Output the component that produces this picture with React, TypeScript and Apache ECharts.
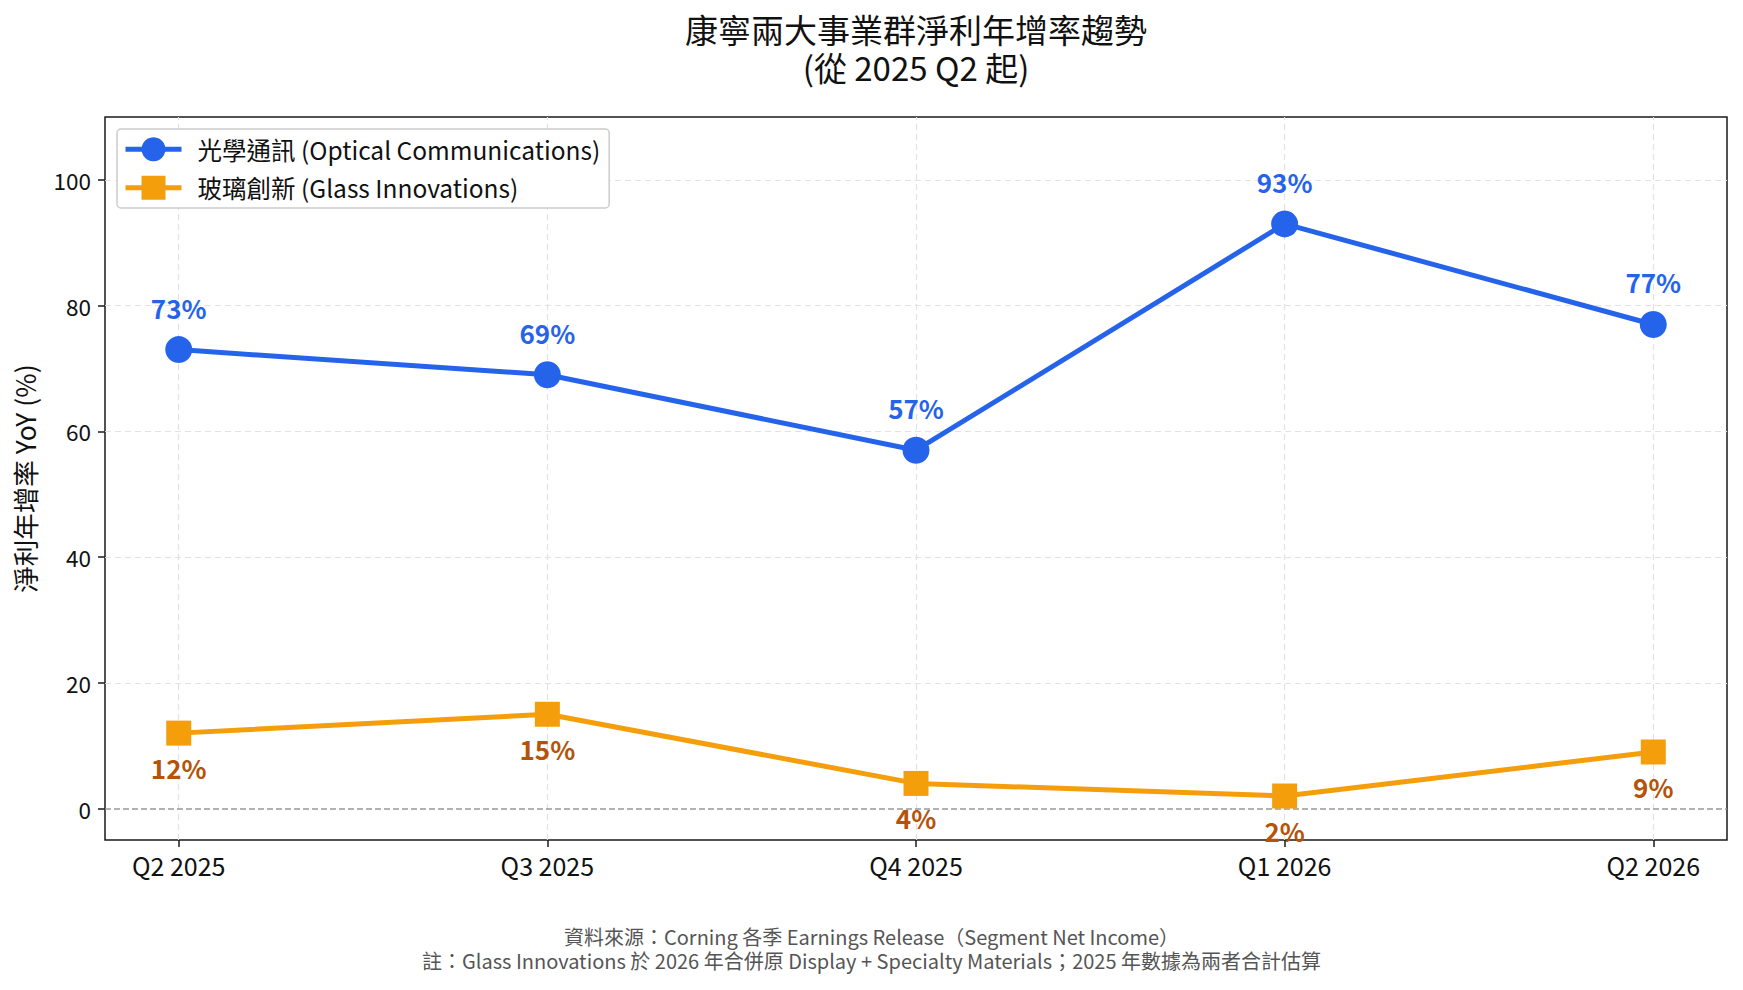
import React, { useEffect, useRef } from "react";
import * as echarts from "echarts";

const categories = ["Q2 2025", "Q3 2025", "Q4 2025", "Q1 2026", "Q2 2026"];
const opticalValues = [73, 69, 57, 93, 77];
const glassValues = [12, 15, 4, 2, 9];
const yTicks = [0, 20, 40, 60, 80, 100];
const xTicks = [0, 1, 2, 3, 4];
const seriesNames = ["光學通訊 (Optical Communications)", "玻璃創新 (Glass Innovations)"];
const titleLine1 = "康寧兩大事業群淨利年增率趨勢";
const titleLine2 = "(從 2025 Q2 起)";
const yAxisName = "淨利年增率 YoY (%)";
const footerLines = [
  "資料來源：Corning 各季 Earnings Release（Segment Net Income）",
  "註：Glass Innovations 於 2026 年合併原 Display + Specialty Materials；2025 年數據為兩者合計估算",
];

const FONT = "Noto Sans CJK TC";
const BLUE = "#2563eb";
const ORANGE = "#f59e0b";
const ORANGE_LABEL = "#b45309";

export default function App() {
  const ref = useRef<HTMLDivElement>(null);

  useEffect(() => {
    document.body.style.margin = "0";
    if (!ref.current) return;
    const chart = echarts.init(ref.current, undefined, { renderer: "svg" });
    const toPairs = (arr: number[]) => arr.map((v, i) => [i, v]);
    const gridLine = { color: "#e2e2e2", type: [6, 4], width: 1.2 };
    chart.setOption({
      animation: false,
      backgroundColor: "#ffffff",
      textStyle: { fontFamily: FONT },
      title: {
        text: titleLine1,
        subtext: titleLine2,
        left: 916,
        top: 12,
        padding: 0,
        itemGap: 4,
        textAlign: "center",
        textStyle: { fontFamily: FONT, fontSize: 33, fontWeight: "normal", color: "#111", lineHeight: 34 },
        subtextStyle: { fontFamily: FONT, fontSize: 33, fontWeight: "normal", color: "#111", lineHeight: 34 },
      },
      grid: {
        left: 105,
        right: 16,
        top: 117,
        bottom: 150,
        show: true,
        borderColor: "#1a1a1a",
        borderWidth: 1.5,
        backgroundColor: "transparent",
      },
      legend: {
        left: 117,
        top: 129,
        orient: "vertical",
        itemWidth: 56,
        itemHeight: 30,
        itemGap: 14,
        padding: [8, 9, 8, 6],
        backgroundColor: "#ffffff",
        borderColor: "#cccccc",
        borderWidth: 1.5,
        borderRadius: 4,
        lineStyle: { width: 5 },
        textStyle: { fontFamily: FONT, fontSize: 24.5, color: "#111", padding: [0, 0, 0, 11] },
        data: seriesNames,
      },
      xAxis: {
        type: "value",
        min: -0.2,
        max: 4.2,
        axisLine: { show: false, onZero: false },
        axisTick: { show: true, inside: false, length: 7, lineStyle: { color: "#1a1a1a", width: 1.5 }, customValues: xTicks },
        axisLabel: {
          customValues: xTicks,
          formatter: (v: number) => categories[Math.round(v)] ?? "",
          fontFamily: FONT,
          fontSize: 25,
          color: "#111",
          margin: 12,
        },
        splitLine: { show: false },
      },
      yAxis: {
        type: "value",
        min: -5,
        max: 110,
        name: yAxisName,
        nameLocation: "middle",
        nameGap: 67,
        nameTextStyle: { fontFamily: FONT, fontSize: 26.5, color: "#111" },
        axisLine: { show: false, onZero: false },
        axisTick: { show: true, inside: false, length: 7, lineStyle: { color: "#1a1a1a", width: 1.5 }, customValues: yTicks },
        axisLabel: { customValues: yTicks, fontFamily: FONT, fontSize: 22.5, color: "#111", margin: 14 },
        splitLine: { show: false },
      },
      series: [
        {
          name: "grid-helper",
          type: "line",
          data: [],
          z: 1,
          silent: true,
          markLine: {
            silent: true,
            z: 1,
            symbol: "none",
            label: { show: false },
            data: [
              ...xTicks.map((x) => ({ xAxis: x, lineStyle: gridLine })),
              ...yTicks.filter((y) => y !== 0).map((y) => ({ yAxis: y, lineStyle: gridLine })),
              { yAxis: 0, lineStyle: { color: "#999999", type: [6, 3], width: 1.5 } },
            ],
          },
        },
        {
          name: seriesNames[0],
          type: "line",
          data: toPairs(opticalValues),
          z: 3,
          symbol: "circle",
          symbolSize: 27,
          lineStyle: { color: BLUE, width: 5 },
          itemStyle: { color: BLUE },
          label: {
            show: true,
            position: "top",
            distance: 16,
            formatter: (p: any) => `${p.value[1]}%`,
            color: BLUE,
            fontFamily: FONT,
            fontSize: 26,
            fontWeight: "bold",
          },
        },
        {
          name: seriesNames[1],
          type: "line",
          data: toPairs(glassValues),
          z: 3,
          symbol: "rect",
          symbolSize: 25,
          lineStyle: { color: ORANGE, width: 5 },
          itemStyle: { color: ORANGE },
          label: {
            show: true,
            position: "bottom",
            distance: 9,
            formatter: (p: any) => `${p.value[1]}%`,
            color: ORANGE_LABEL,
            fontFamily: FONT,
            fontSize: 26,
            fontWeight: "bold",
          },
        },
      ],
      graphic: [
        {
          type: "text",
          left: "center",
          top: 926,
          style: { text: footerLines[0], fontFamily: FONT, fontSize: 20, fill: "#555555" },
        },
        {
          type: "text",
          left: "center",
          top: 950,
          style: { text: footerLines[1], fontFamily: FONT, fontSize: 20, fill: "#555555" },
        },
      ],
    });
    return () => chart.dispose();
  }, []);

  return <div ref={ref} style={{ width: 1743, height: 990 }} />;
}
